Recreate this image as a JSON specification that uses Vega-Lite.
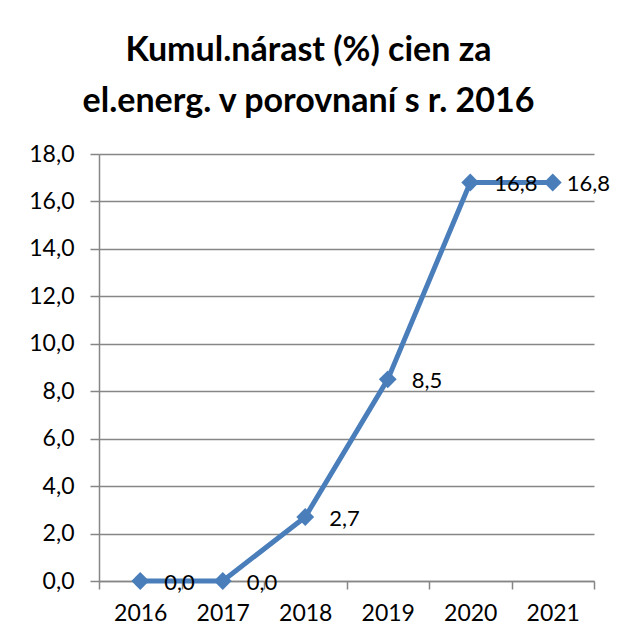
{
  "$schema": "https://vega.github.io/schema/vega-lite/v6.json",
  "width": 495,
  "height": 427,
  "autosize": {"type": "none"},
  "padding": {"left": 99, "top": 154, "right": 24, "bottom": 60},
  "background": "white",
  "title": {
    "text": ["Kumul.nárast (%) cien za", "el.energ. v porovnaní s r. 2016"],
    "font": "Lato",
    "fontSize": 34,
    "fontWeight": "bold",
    "color": "#000000",
    "lineHeight": 51,
    "anchor": "middle",
    "dx": -38,
    "offset": 24
  },
  "data": {
    "values": [
      {"rok": "2016", "hodnota": 0.0},
      {"rok": "2017", "hodnota": 0.0},
      {"rok": "2018", "hodnota": 2.7},
      {"rok": "2019", "hodnota": 8.5},
      {"rok": "2020", "hodnota": 16.8},
      {"rok": "2021", "hodnota": 16.8}
    ]
  },
  "encoding": {
    "x": {
      "field": "rok",
      "type": "ordinal",
      "scale": {"type": "band", "paddingInner": 0, "paddingOuter": 0},
      "axis": {
        "title": null,
        "labelAngle": 0,
        "labelFont": "Lato",
        "labelFontSize": 23,
        "labelColor": "#000000",
        "labelPadding": 13,
        "domainColor": "#868686",
        "domainWidth": 1.5,
        "tickColor": "#868686",
        "tickWidth": 1.5,
        "tickSize": 8,
        "ticks": true,
        "tickBand": "extent",
        "grid": false
      }
    },
    "y": {
      "field": "hodnota",
      "type": "quantitative",
      "scale": {"domain": [0, 18], "nice": false},
      "axis": {
        "title": null,
        "values": [0, 2, 4, 6, 8, 10, 12, 14, 16, 18],
        "labelExpr": "replace(format(datum.value, '.1f'), '.', ',')",
        "labelFont": "Lato",
        "labelFontSize": 23,
        "labelColor": "#000000",
        "labelPadding": 16,
        "tickSize": 9,
        "tickColor": "#868686",
        "tickWidth": 1.5,
        "domainColor": "#868686",
        "domainWidth": 1.5,
        "grid": true,
        "gridColor": "#868686",
        "gridWidth": 1.5
      }
    }
  },
  "layer": [
    {
      "mark": {"type": "line", "color": "#4A7EBB", "strokeWidth": 5}
    },
    {
      "mark": {"type": "point", "shape": "diamond", "filled": true, "color": "#4A7EBB", "opacity": 1, "size": 320}
    },
    {
      "transform": [{"filter": "datum.rok != '2021'"}],
      "mark": {"type": "text", "align": "left", "baseline": "middle", "dx": 24, "dy": 2, "font": "Lato", "fontSize": 22, "color": "#000000"},
      "encoding": {
        "text": {"field": "hodnota", "type": "quantitative", "format": ".1f"}
      }
    },
    {
      "transform": [{"filter": "datum.rok == '2021'"}],
      "mark": {"type": "text", "align": "left", "baseline": "middle", "dx": 14, "dy": 2, "font": "Lato", "fontSize": 22, "color": "#000000"},
      "encoding": {
        "text": {"field": "hodnota", "type": "quantitative", "format": ".1f"}
      }
    }
  ],
  "config": {
    "view": {"stroke": null},
    "locale": {"number": {"decimal": ",", "thousands": " ", "grouping": [3], "currency": ["", " €"]}}
  }
}
